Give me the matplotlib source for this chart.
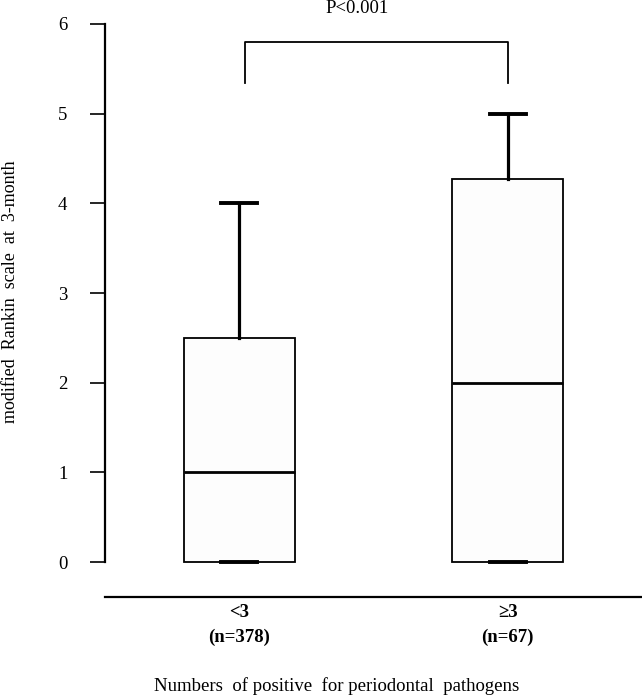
import matplotlib.pyplot as plt

plt.rcParams['font.family'] = ['Liberation Serif', 'DejaVu Serif']

# box summary values
groups = ['<3\n(n=378)', '≥3\n(n=67)']
q1 = [0, 0]
med = [1, 2]
q3 = [2.5, 4.27]
whislo = [0, 0]
whishi = [4, 5]
p_text = 'P<0.001'

stats = []
for i in range(len(groups)):
    stats.append(dict(med=med[i], q1=q1[i], q3=q3[i], whislo=whislo[i],
                      whishi=whishi[i], fliers=[], label=groups[i]))

fig = plt.figure(figsize=(6.42, 6.98), dpi=100)
ax = fig.add_axes([105/642, 1-597/698, 1-105/642, (597-24)/698])

ax.bxp(stats, positions=[1, 2], widths=0.415, showfliers=False,
       patch_artist=True,
       boxprops=dict(facecolor='#fdfdfd', edgecolor='black', linewidth=1.3),
       medianprops=dict(color='black', linewidth=2.0),
       whiskerprops=dict(color='black', linewidth=2.3),
       capprops=dict(color='black', linewidth=2.8),
       capwidths=0.134)

ax.set_xlim(0.5, 2.5)
ax.set_ylim(-0.39, 6)
ax.set_yticks(range(0, 7))
ax.set_xticks([1, 2])
ax.set_xticklabels(groups, fontweight='bold', fontsize=13.5, linespacing=1.6)

for s in ['top', 'right']:
    ax.spines[s].set_visible(False)
ax.spines['left'].set_bounds(0, 6)
ax.spines['left'].set_linewidth(1.6)
ax.spines['bottom'].set_linewidth(1.6)
ax.tick_params(axis='y', length=11, width=1.2, labelsize=13.5, pad=16)
ax.tick_params(axis='x', length=0, pad=5)

ax.set_ylabel('modified  Rankin  scale  at  3-month', fontsize=13)
ax.yaxis.set_label_coords(-0.16, 0.532)
ax.set_xlabel('Numbers  of positive  for periodontal  pathogens', fontsize=13.5)
ax.xaxis.set_label_coords(0.432, -0.14)

# significance bracket
ax.plot([1.02, 1.02, 2.0, 2.0], [5.34, 5.8, 5.8, 5.34], color='black',
        linewidth=1.3, clip_on=False)
ax.text(1.44, 6.17, p_text, ha='center', va='center', fontsize=13.5,
        clip_on=False)

fig.savefig('out.png', dpi=100)
